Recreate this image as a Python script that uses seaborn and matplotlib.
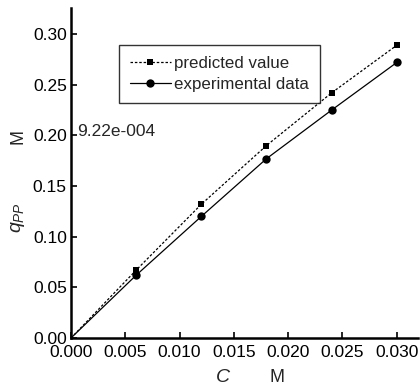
import matplotlib
matplotlib.use("Agg")
import matplotlib.pyplot as plt
from matplotlib.lines import Line2D
import seaborn as sns
import pandas as pd

conc = [0.0, 0.006, 0.012, 0.018, 0.024, 0.030]
predicted = [0.0, 0.067, 0.132, 0.190, 0.242, 0.289]
experimental = [0.0, 0.062, 0.120, 0.177, 0.225, 0.272]
xticks = [0.000, 0.005, 0.010, 0.015, 0.020, 0.025, 0.030]
yticks = [0.00, 0.05, 0.10, 0.15, 0.20, 0.25, 0.30]
annotation = "9.22e-004"

sns.set_theme(style="ticks")
plt.rcParams['font.family'] = ['Liberation Sans', 'DejaVu Sans']
plt.rcParams['mathtext.fontset'] = 'custom'
plt.rcParams['mathtext.it'] = 'Liberation Sans:italic'
plt.rcParams['mathtext.rm'] = 'Liberation Sans'

W, H = 420, 388
fig = plt.figure(figsize=(W / 100, H / 100), dpi=100)
x0, x1, y0, y1 = 71, 418, 338, 8
ax = fig.add_axes([x0 / W, 1 - y0 / H, (x1 - x0) / W, (y0 - y1) / H])

df_p = pd.DataFrame({"x": conc, "y": predicted})
df_e = pd.DataFrame({"x": conc, "y": experimental})
sns.lineplot(data=df_p, x="x", y="y", ax=ax, color="black", lw=0.9,
             linestyle=(0, (2, 1.5)), marker="s", markersize=5,
             markevery=list(range(1, len(conc))), markeredgewidth=0)
sns.lineplot(data=df_e, x="x", y="y", ax=ax, color="black", lw=0.9,
             linestyle="-", marker="o", markersize=6,
             markevery=list(range(1, len(conc))), markeredgewidth=0)

ax.set_xlim(0, (x1 - x0) / 10860)
ax.set_ylim(0, (y0 - y1) / 1013)
ax.set_xticks(xticks)
ax.set_xticklabels([f"{v:.3f}" for v in xticks])
ax.set_yticks(yticks)
ax.set_yticklabels([f"{v:.2f}" for v in yticks])
ax.set_xlabel("")
ax.set_ylabel("")
for s in ["top", "right"]:
    ax.spines[s].set_visible(False)
for s in ["left", "bottom"]:
    ax.spines[s].set_linewidth(1.8)
    ax.spines[s].set_color("black")
ax.tick_params(direction="in", length=4, width=1.2, labelsize=12.5, colors="black")
ax.tick_params(axis="x", pad=5)
ax.tick_params(axis="y", pad=3)

handles = [
    Line2D([0], [0], color="black", lw=0.9, linestyle=(0, (2, 1.5)), marker="s", markersize=5, markeredgewidth=0),
    Line2D([0], [0], color="black", lw=0.9, linestyle="-", marker="o", markersize=6, markeredgewidth=0),
]
leg = ax.legend(handles, ["predicted value", "experimental data"], loc="upper left",
                bbox_to_anchor=((119 - x0) / (x1 - x0), (y0 - 45) / (y0 - y1)),
                frameon=True, fancybox=False, edgecolor="black", fontsize=12.2,
                handlelength=2.4, handletextpad=0.2, borderpad=0.65, labelspacing=0.35,
                borderaxespad=0)
leg.get_frame().set_linewidth(1.0)

fig.text(77 / W, 1 - 131 / H, annotation, fontsize=12.5, ha="left", va="center")
fig.text(18 / W, 1 - 136 / H, "M", fontsize=13, rotation=90, ha="center", va="center")
fig.text(18 / W, 1 - 218 / H, r"$q_{PP}$", fontsize=14, rotation=90, ha="center", va="center")
fig.text(223 / W, 1 - 378 / H, r"$C$", fontsize=14, ha="center", va="center")
fig.text(277 / W, 1 - 378 / H, "M", fontsize=13, ha="center", va="center")

fig.savefig("out.png", dpi=100)
